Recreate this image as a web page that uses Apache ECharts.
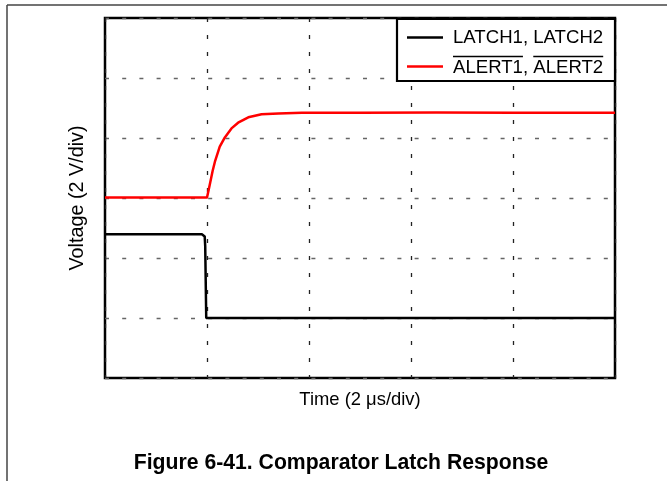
<!DOCTYPE html>
<html>
<head>
<meta charset="utf-8">
<script src="https://cdn.jsdelivr.net/npm/echarts@6/dist/echarts.min.js"></script>
<style>
  html, body { margin: 0; padding: 0; background: #fff; }
  #chart { width: 667px; height: 481px; }
</style>
</head>
<body>
<div id="chart"></div>
<script>
// Comparator latch response: time in microseconds, voltage in volts
const latchTime = [0, 1.90, 1.93, 1.955, 1.965, 1.985, 10];
const latchVolt = [4.79, 4.79, 4.78, 4.72, 4.40, 2.00, 2.00];

const alertTime = [0, 2.00, 2.03, 2.06, 2.11, 2.16, 2.25, 2.35, 2.48, 2.61, 2.81, 3.07, 3.40, 3.86, 5.00, 6.50, 8.00, 10];
const alertVolt = [6.02, 6.02, 6.25, 6.49, 6.90, 7.24, 7.71, 8.02, 8.32, 8.51, 8.69, 8.79, 8.82, 8.84, 8.84, 8.85, 8.84, 8.84];

const seriesNames = ['LATCH1, LATCH2', 'ALERT1, ALERT2'];
const xAxisName = 'Time (2 \u03bcs/div)';
const yAxisName = 'Voltage (2 V/div)';
const figureTitle = 'Figure 6-41. Comparator Latch Response';

const FONT = "'Liberation Sans', Arial, sans-serif";

function pairs(xs, ys) { return xs.map((x, i) => [x, ys[i]]); }

// text width helper for placing the overbars in the legend
const measureCtx = document.createElement('canvas').getContext('2d');
function textWidth(s, size) {
  measureCtx.font = size + "px 'Liberation Sans'";
  return measureCtx.measureText(s).width;
}

const legendFont = 18.6;
const legX = 397, legY = 19, legW = 218, legH = 62;
const textX = 453;
const row1 = 37.5, row2 = 67.5;
const wAlert1 = textWidth('ALERT1', legendFont);
const wSep = textWidth(', ', legendFont);
const wAlert2 = textWidth('ALERT2', legendFont);
const barY = 56.5;

const chart = echarts.init(document.getElementById('chart'), null, { renderer: 'canvas' });

chart.setOption({
  animation: false,
  backgroundColor: '#fff',
  grid: {
    left: 105, top: 18, width: 510, height: 360,
    show: true, borderColor: '#000', borderWidth: 2.5, backgroundColor: 'transparent'
  },
  xAxis: {
    type: 'value', min: 0, max: 10, interval: 2,
    name: xAxisName, nameLocation: 'middle', nameGap: 13,
    nameTextStyle: { fontFamily: FONT, fontSize: 18.4, color: '#000' },
    axisLine: { show: false }, axisTick: { show: false }, axisLabel: { show: false },
    splitLine: { show: true, lineStyle: { color: '#222', width: 1.3, type: [4, 13] } }
  },
  yAxis: {
    type: 'value', min: 0, max: 12, interval: 2,
    name: yAxisName, nameLocation: 'middle', nameGap: 17,
    nameTextStyle: { fontFamily: FONT, fontSize: 19.8, color: '#000' },
    axisLine: { show: false }, axisTick: { show: false }, axisLabel: { show: false },
    splitLine: { show: true, lineStyle: { color: '#666', width: 1.3, type: [4, 13.2] } }
  },
  series: [
    {
      name: seriesNames[0], type: 'line', showSymbol: false, z: 3,
      lineStyle: { color: '#000', width: 2.5 },
      data: pairs(latchTime, latchVolt)
    },
    {
      name: seriesNames[1], type: 'line', showSymbol: false, z: 4,
      lineStyle: { color: '#ff0000', width: 2.5, join: 'round' },
      data: pairs(alertTime, alertVolt)
    }
  ],
  graphic: [
    // page frame
    { type: 'line', shape: { x1: 7, y1: 5, x2: 667, y2: 5 }, style: { stroke: '#444', lineWidth: 1.5 }, z: 10 },
    { type: 'line', shape: { x1: 7, y1: 5, x2: 7, y2: 481 }, style: { stroke: '#444', lineWidth: 1.5 }, z: 10 },
    // legend box
    { type: 'rect', shape: { x: legX, y: legY, width: legW, height: legH },
      style: { fill: '#fff', stroke: '#000', lineWidth: 2.2 }, z: 20 },
    { type: 'line', shape: { x1: 407, y1: row1, x2: 443, y2: row1 }, style: { stroke: '#000', lineWidth: 2.5 }, z: 21 },
    { type: 'text', x: textX, y: row1, z: 21,
      style: { text: seriesNames[0], fontFamily: FONT, fontSize: legendFont, fill: '#000', verticalAlign: 'middle' } },
    { type: 'line', shape: { x1: 407, y1: row2 - 1, x2: 443, y2: row2 - 1 }, style: { stroke: '#ff0000', lineWidth: 2.5 }, z: 21 },
    { type: 'text', x: textX, y: row2, z: 21,
      style: { text: seriesNames[1], fontFamily: FONT, fontSize: legendFont, fill: '#000', verticalAlign: 'middle' } },
    // overbars for the active-low signal names
    { type: 'line', shape: { x1: textX, y1: barY, x2: textX + wAlert1, y2: barY }, style: { stroke: '#000', lineWidth: 1.5 }, z: 21 },
    { type: 'line', shape: { x1: textX + wAlert1 + wSep, y1: barY, x2: textX + wAlert1 + wSep + wAlert2, y2: barY }, style: { stroke: '#000', lineWidth: 1.5 }, z: 21 },
    // figure caption
    { type: 'text', x: 341, y: 463, z: 21,
      style: { text: figureTitle, fontFamily: FONT, fontSize: 21.2, fontWeight: 'bold', fill: '#000', align: 'center', verticalAlign: 'middle' } }
  ]
});
</script>
</body>
</html>
